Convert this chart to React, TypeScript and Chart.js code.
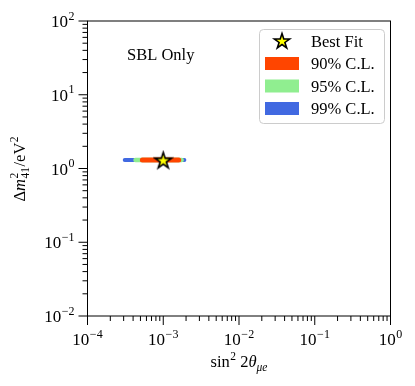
import React, { useEffect, useRef } from "react";
import { Chart, registerables } from "chart.js";

Chart.register(...registerables);

// ---- data ----
const xDecades = [1e-4, 1e-3, 1e-2, 1e-1, 1];
const xTickExps = ["\u22124", "\u22123", "\u22122", "\u22121", "0"];
const yDecades = [1e-2, 1e-1, 1, 10, 100];
const yTickExps = ["\u22122", "\u22121", "0", "1", "2"];

const band99X = [3.1e-4, 1.9e-3];
const band95X = [4.3e-4, 1.75e-3];
const band90X = [5.3e-4, 1.6e-3];
const bandY = [1.3, 1.3];
const bestFitX = [1.0e-3];
const bestFitY = [1.3];

const legendLabels = ["Best Fit", "90% C.L.", "95% C.L.", "99% C.L."];
const legendColors = ["", "#FF4500", "#90EE90", "#4169E1"];
const annotationText = "SBL Only";

const FONT = '"Liberation Serif", "DejaVu Serif", serif';

type Part = { t: string; size: number; italic?: boolean; dy?: number; dx?: number; noAdv?: boolean };

function fontOf(p: Part) {
  return `${p.italic ? "italic " : ""}${p.size}px ${FONT}`;
}
function richWidth(ctx: CanvasRenderingContext2D, parts: Part[]) {
  let w = 0;
  for (const p of parts) {
    ctx.font = fontOf(p);
    if (!p.noAdv) w += ctx.measureText(p.t).width + (p.dx || 0);
  }
  return w;
}
function drawRich(ctx: CanvasRenderingContext2D, parts: Part[], x: number, y: number) {
  ctx.textAlign = "left";
  ctx.textBaseline = "alphabetic";
  let cx = x;
  for (const p of parts) {
    ctx.font = fontOf(p);
    ctx.fillText(p.t, cx + (p.dx || 0), y + (p.dy || 0));
    if (!p.noAdv) cx += ctx.measureText(p.t).width + (p.dx || 0);
  }
}

function starPath(ctx: CanvasRenderingContext2D, cx: number, cy: number, r: number) {
  const ri = r * 0.381966;
  ctx.beginPath();
  for (let i = 0; i < 10; i++) {
    const rr = i % 2 === 0 ? r : ri;
    const a = -Math.PI / 2 + (i * Math.PI) / 5;
    const px = cx + rr * Math.cos(a);
    const py = cy + rr * Math.sin(a);
    if (i === 0) ctx.moveTo(px, py);
    else ctx.lineTo(px, py);
  }
  ctx.closePath();
}

function makeStar(r: number) {
  const c = document.createElement("canvas");
  const s = Math.ceil(2 * r + 4);
  c.width = s;
  c.height = s;
  const ctx = c.getContext("2d")!;
  starPath(ctx, s / 2, s / 2 + 0.8, r);
  ctx.fillStyle = "#FFFF00";
  ctx.fill();
  ctx.lineWidth = 1.6;
  ctx.strokeStyle = "#000";
  ctx.lineJoin = "miter";
  ctx.stroke();
  return c;
}

const decoPlugin = {
  id: "deco",
  afterDraw(chart: any) {
    const ctx: CanvasRenderingContext2D = chart.ctx;
    const xs = chart.scales.x;
    const ys = chart.scales.y;
    const a = chart.chartArea;
    ctx.save();
    // frame
    ctx.strokeStyle = "#000";
    ctx.lineWidth = 1;
    ctx.strokeRect(a.left, a.top, a.right - a.left, a.bottom - a.top);

    // ticks
    ctx.beginPath();
    for (let d = 0; d < xDecades.length; d++) {
      const base = xDecades[d];
      const px = xs.getPixelForValue(base);
      ctx.moveTo(px, a.bottom);
      ctx.lineTo(px, a.bottom + 9);
      if (d < xDecades.length - 1) {
        for (let m = 2; m <= 9; m++) {
          const q = xs.getPixelForValue(base * m);
          ctx.moveTo(q, a.bottom);
          ctx.lineTo(q, a.bottom + 5);
        }
      }
    }
    for (let d = 0; d < yDecades.length; d++) {
      const base = yDecades[d];
      const py = ys.getPixelForValue(base);
      ctx.moveTo(a.left, py);
      ctx.lineTo(a.left - 9, py);
      if (d < yDecades.length - 1) {
        for (let m = 2; m <= 9; m++) {
          const q = ys.getPixelForValue(base * m);
          ctx.moveTo(a.left, q);
          ctx.lineTo(a.left - 5, q);
        }
      }
    }
    ctx.stroke();

    ctx.fillStyle = "#000";
    // x tick labels
    for (let i = 0; i < xDecades.length; i++) {
      const parts: Part[] = [
        { t: "10", size: 17 },
        { t: xTickExps[i], size: 12, dy: -7.5, dx: 0.5 },
      ];
      const w = richWidth(ctx, parts);
      const px = xs.getPixelForValue(xDecades[i]);
      drawRich(ctx, parts, px - w / 2, a.bottom + 29);
    }
    // y tick labels
    for (let i = 0; i < yDecades.length; i++) {
      const parts: Part[] = [
        { t: "10", size: 17 },
        { t: yTickExps[i], size: 12, dy: -7.5, dx: 0.5 },
      ];
      const w = richWidth(ctx, parts);
      const py = ys.getPixelForValue(yDecades[i]);
      drawRich(ctx, parts, a.left - 13 - w, py + 6);
    }

    // x title
    {
      const parts: Part[] = [
        { t: "sin", size: 16.5 },
        { t: "2", size: 11.5, dy: -7, dx: 0.5 },
        { t: " 2", size: 16.5 },
        { t: "\u03B8", size: 16.5, italic: true },
        { t: "\u03BCe", size: 11.5, italic: true, dy: 3.5 },
      ];
      const w = richWidth(ctx, parts);
      drawRich(ctx, parts, (a.left + a.right) / 2 - w / 2, 367);
    }
    // y title
    {
      ctx.save();
      ctx.translate(25, 169);
      ctx.rotate(-Math.PI / 2);
      const parts: Part[] = [
        { t: "\u0394", size: 16.5 },
        { t: "m", size: 16.5, italic: true },
        { t: "2", size: 11.5, dy: -7.5, dx: 0.5, noAdv: true },
        { t: "41", size: 11.5, dy: 4, dx: 0.5 },
        { t: "/eV", size: 16.5, dx: 0.5 },
        { t: "2", size: 11.5, dy: -7.5, dx: 0.5 },
      ];
      const w = richWidth(ctx, parts);
      drawRich(ctx, parts, -w / 2, 0);
      ctx.restore();
    }

    // annotation
    ctx.font = `16.5px ${FONT}`;
    ctx.textAlign = "left";
    ctx.textBaseline = "alphabetic";
    ctx.fillText(annotationText, 127, 59.5);

    // legend
    const lx = 259.5, ly = 29.5, lw = 125, lh = 94;
    ctx.beginPath();
    (ctx as any).roundRect(lx, ly, lw, lh, 4);
    ctx.fillStyle = "rgba(255,255,255,0.85)";
    ctx.fill();
    ctx.strokeStyle = "#cccccc";
    ctx.lineWidth = 1;
    ctx.stroke();
    const rowY = [41, 63.5, 86, 108.5];
    for (let i = 0; i < legendLabels.length; i++) {
      if (i === 0) {
        starPath(ctx, 282, rowY[i] + 0.5, 8);
        ctx.fillStyle = "#FFFF00";
        ctx.fill();
        ctx.lineWidth = 1.6;
        ctx.strokeStyle = "#000";
        ctx.stroke();
      } else {
        ctx.fillStyle = legendColors[i];
        ctx.fillRect(265, rowY[i] - 6.5, 34, 13);
      }
      ctx.fillStyle = "#000";
      ctx.font = `16.5px ${FONT}`;
      ctx.fillText(legendLabels[i], 311, rowY[i] + 5.5);
    }
    ctx.restore();
  },
};

export default function App() {
  const ref = useRef<HTMLCanvasElement | null>(null);
  useEffect(() => {
    if (!ref.current) return;
    const star = makeStar(8.5);
    const mk = (xsArr: number[], ysArr: number[]) => xsArr.map((x, i) => ({ x, y: ysArr[i] }));
    const chart = new Chart(ref.current, {
      type: "scatter",
      data: {
        datasets: [
          {
            label: "Best Fit",
            data: mk(bestFitX, bestFitY),
            pointStyle: star as any,
            pointRadius: 9,
            showLine: false,
          },
          {
            label: "90% C.L.",
            data: mk(band90X, bandY),
            showLine: true,
            borderColor: "#FF4500",
            borderWidth: 5,
            borderCapStyle: "round",
            pointRadius: 0,
          },
          {
            label: "95% C.L.",
            data: mk(band95X, bandY),
            showLine: true,
            borderColor: "#90EE90",
            borderWidth: 4.5,
            borderCapStyle: "round",
            pointRadius: 0,
          },
          {
            label: "99% C.L.",
            data: mk(band99X, bandY),
            showLine: true,
            borderColor: "#4169E1",
            borderWidth: 4,
            borderCapStyle: "round",
            pointRadius: 0,
          },
        ] as any,
      },
      options: {
        responsive: false,
        animation: false,
        layout: { padding: { left: 87.5, right: 24.5, top: 21, bottom: 70 } },
        plugins: { legend: { display: false }, tooltip: { enabled: false } },
        scales: {
          x: {
            type: "logarithmic",
            min: 1e-4,
            max: 1,
            ticks: { display: false },
            grid: { display: false, drawTicks: false },
            border: { display: false },
          },
          y: {
            type: "logarithmic",
            min: 1e-2,
            max: 100,
            ticks: { display: false },
            grid: { display: false, drawTicks: false },
            border: { display: false },
          },
        },
      },
      plugins: [decoPlugin],
    });
    return () => chart.destroy();
  }, []);
  return (
    <div style={{ position: "fixed", left: 0, top: 0, width: 415, height: 386, background: "#fff" }}>
      <canvas ref={ref} width={415} height={386} style={{ display: "block", width: 415, height: 386 }} />
    </div>
  );
}
